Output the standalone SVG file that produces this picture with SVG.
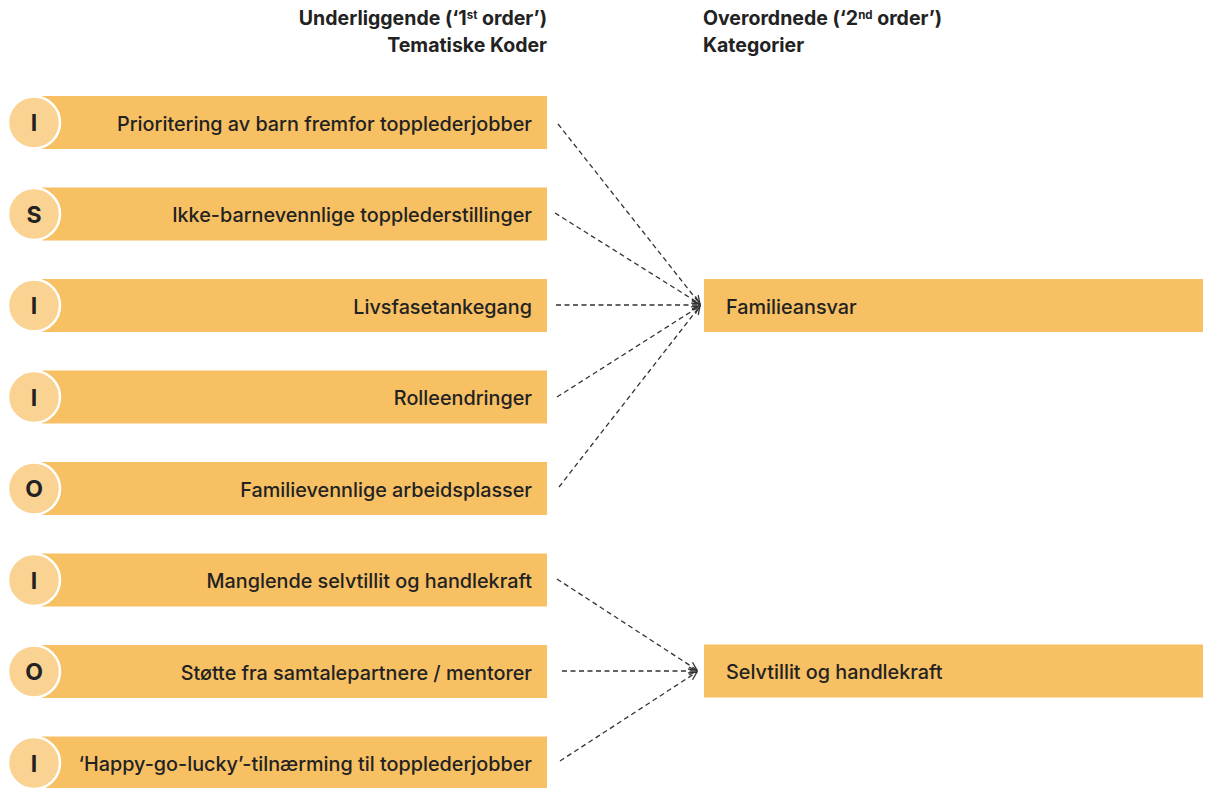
<svg xmlns="http://www.w3.org/2000/svg" width="1210" height="788" viewBox="0 0 1210 788">
<defs>
<style>
.bar{fill:#F7C063}
.badge{fill:#FAD291;stroke:#fff;stroke-width:2.5}
.lbl{font-family:Inter,"Open Sans","Liberation Sans",sans-serif;font-weight:500;font-size:19.8px;fill:#222}
.ltr{font-family:Inter,"Open Sans","Liberation Sans",sans-serif;font-weight:700;font-size:23px;fill:#222}
.hdr{font-family:Inter,"Open Sans","Liberation Sans",sans-serif;font-weight:700;font-size:19.5px;fill:#222}
.sup{font-size:11.5px}
.con{fill:none;stroke:#333;stroke-width:1.3;stroke-dasharray:5 3.5}
</style>
<marker id="arr" viewBox="0 0 10 10" refX="9" refY="5" markerWidth="10" markerHeight="10" markerUnits="userSpaceOnUse" orient="auto">
<path d="M1,1 L9,5 L1,9" fill="none" stroke="#333" stroke-width="1.3"/>
</marker>
</defs>
<rect width="1210" height="788" fill="#fff"/>
<g id="headers">
<text class="hdr" x="547" y="25" text-anchor="end">Underliggende (‘1<tspan class="sup" dy="-6">st</tspan><tspan dy="6"> order’)</tspan></text>
<text class="hdr" x="547" y="52" text-anchor="end">Tematiske Koder</text>
<text class="hdr" x="703" y="25">Overordnede (‘2<tspan class="sup" dy="-6">nd</tspan><tspan dy="6"> order’)</tspan></text>
<text class="hdr" x="703" y="52">Kategorier</text>
</g>
<g id="connectors">
<path class="con" marker-end="url(#arr)" d="M558,124 L700,304"/>
<path class="con" marker-end="url(#arr)" d="M555,213 L700,304"/>
<path class="con" marker-end="url(#arr)" d="M556,305 L700,305"/>
<path class="con" marker-end="url(#arr)" d="M557,397 L700,306"/>
<path class="con" marker-end="url(#arr)" d="M559,487 L700,306"/>
<path class="con" marker-end="url(#arr)" d="M557,579 L697,670"/>
<path class="con" marker-end="url(#arr)" d="M562,671 L697,671"/>
<path class="con" marker-end="url(#arr)" d="M560,761 L697,672"/>
</g>
<g id="n1"><rect class="bar" x="42" y="96" width="505" height="53"/><circle class="badge" cx="34" cy="122.5" r="26"/><text class="ltr" x="34" y="131" text-anchor="middle">I</text><text class="lbl" x="532" y="130.5" text-anchor="end">Prioritering av barn fremfor topplederjobber</text></g>
<g id="n2"><rect class="bar" x="42" y="187.5" width="505" height="53"/><circle class="badge" cx="34" cy="214" r="26"/><text class="ltr" x="34" y="222.5" text-anchor="middle">S</text><text class="lbl" x="532" y="222" text-anchor="end">Ikke-barnevennlige topplederstillinger</text></g>
<g id="n3"><rect class="bar" x="42" y="279" width="505" height="53"/><circle class="badge" cx="34" cy="305.5" r="26"/><text class="ltr" x="34" y="314" text-anchor="middle">I</text><text class="lbl" x="532" y="313.5" text-anchor="end">Livsfasetankegang</text></g>
<g id="n4"><rect class="bar" x="42" y="370.5" width="505" height="53"/><circle class="badge" cx="34" cy="397" r="26"/><text class="ltr" x="34" y="405.5" text-anchor="middle">I</text><text class="lbl" x="532" y="405" text-anchor="end">Rolleendringer</text></g>
<g id="n5"><rect class="bar" x="42" y="462" width="505" height="53"/><circle class="badge" cx="34" cy="488.5" r="26"/><text class="ltr" x="34" y="497" text-anchor="middle">O</text><text class="lbl" x="532" y="496.5" text-anchor="end">Familievennlige arbeidsplasser</text></g>
<g id="n6"><rect class="bar" x="42" y="553.5" width="505" height="53"/><circle class="badge" cx="34" cy="580" r="26"/><text class="ltr" x="34" y="588.5" text-anchor="middle">I</text><text class="lbl" x="532" y="588" text-anchor="end">Manglende selvtillit og handlekraft</text></g>
<g id="n7"><rect class="bar" x="42" y="645" width="505" height="53"/><circle class="badge" cx="34" cy="671.5" r="26"/><text class="ltr" x="34" y="680" text-anchor="middle">O</text><text class="lbl" x="532" y="679.5" text-anchor="end">Støtte fra samtalepartnere / mentorer</text></g>
<g id="n8"><rect class="bar" x="42" y="736.5" width="505" height="53"/><circle class="badge" cx="34" cy="763" r="26"/><text class="ltr" x="34" y="771.5" text-anchor="middle">I</text><text class="lbl" x="532" y="771" text-anchor="end">‘Happy-go-lucky’-tilnærming til topplederjobber</text></g>
<g id="c1"><rect class="bar" x="704" y="279" width="499" height="53"/><text class="lbl" x="726" y="313.5">Familieansvar</text></g>
<g id="c2"><rect class="bar" x="704" y="644.5" width="499" height="53"/><text class="lbl" x="726" y="679">Selvtillit og handlekraft</text></g>
</svg>
